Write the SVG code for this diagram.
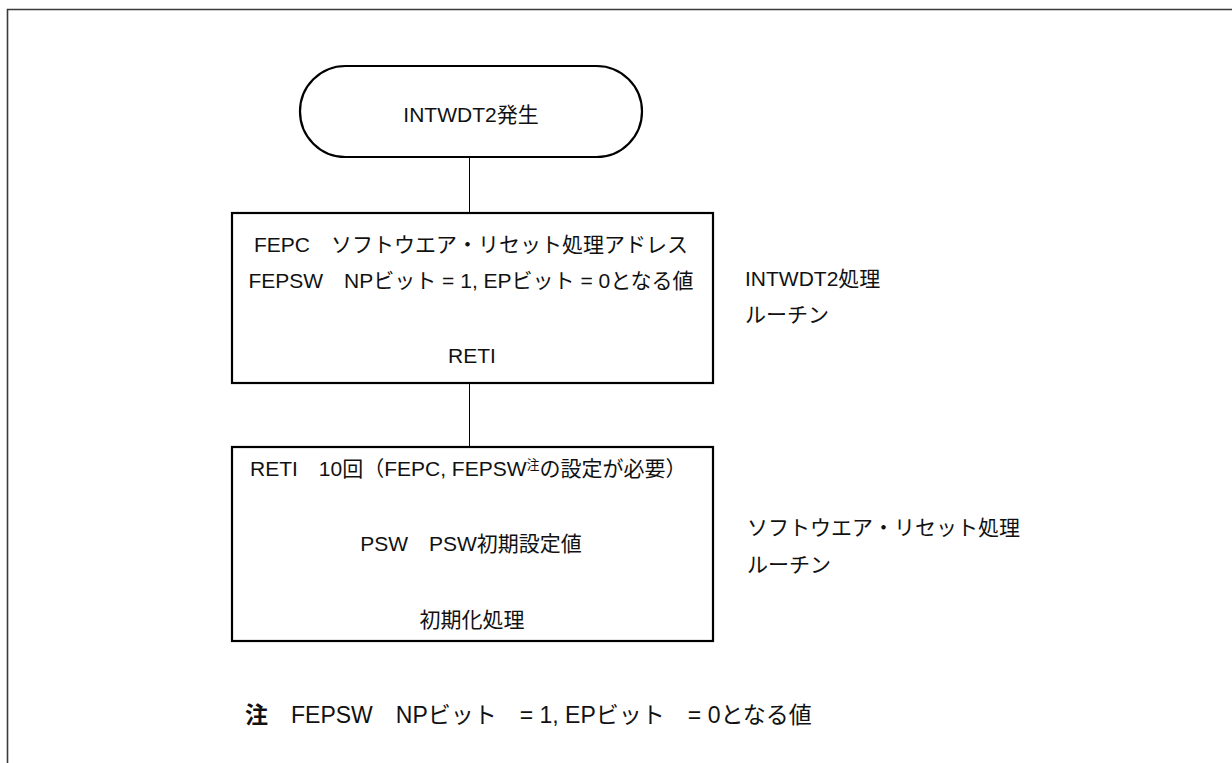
<svg xmlns="http://www.w3.org/2000/svg" width="1232" height="763" viewBox="0 0 1232 763">
<style>
text{font-family:"Liberation Sans","Noto Sans CJK JP",sans-serif;font-size:21px;fill:#111}
.m{text-anchor:middle}
.shape{fill:#fff;stroke:#000;stroke-width:2.2}
.conn{stroke:#000;stroke-width:1;fill:none}
.note{font-size:23px}
</style>
<rect width="1232" height="763" fill="#fff"/>
<path d="M7.5,763 V9.5 H1232" fill="none" stroke="#3a3a3a" stroke-width="1.6"/>
<g id="connectors">
<line class="conn" x1="469.5" y1="157" x2="469.5" y2="213"/>
<line class="conn" x1="469.5" y1="383" x2="469.5" y2="447"/>
</g>
<g id="start">
<rect class="shape" x="300" y="66" width="342" height="91" rx="45.5" ry="45.5"/>
<text class="m" x="471" y="122">INTWDT2発生</text>
</g>
<g id="intwdt2-routine">
<rect class="shape" x="232" y="213" width="481" height="170"/>
<text class="m" x="471" y="252">FEPC　ソフトウエア・リセット処理アドレス</text>
<text class="m" x="471" y="288">FEPSW　NPビット = 1, EPビット = 0となる値</text>
<text class="m" x="472" y="363">RETI</text>
</g>
<g id="reset-routine">
<rect class="shape" x="232" y="447" width="481" height="194"/>
<text x="250" y="476">RETI　10回（FEPC, FEPSW<tspan font-size="13" dy="-7">注</tspan><tspan dy="7">の設定が必要）</tspan></text>
<text class="m" x="471" y="551">PSW　PSW初期設定値</text>
<text class="m" x="472" y="627">初期化処理</text>
</g>
<g id="label-intwdt2">
<text x="745" y="286">INTWDT2処理</text>
<text x="745" y="322">ルーチン</text>
</g>
<g id="label-reset">
<text x="747" y="535">ソフトウエア・リセット処理</text>
<text x="747" y="572">ルーチン</text>
</g>
<g id="note">
<text class="note" x="245" y="723"><tspan font-weight="bold">注</tspan>　FEPSW　NPビット　= 1, EPビット　= 0となる値</text>
</g>
</svg>
